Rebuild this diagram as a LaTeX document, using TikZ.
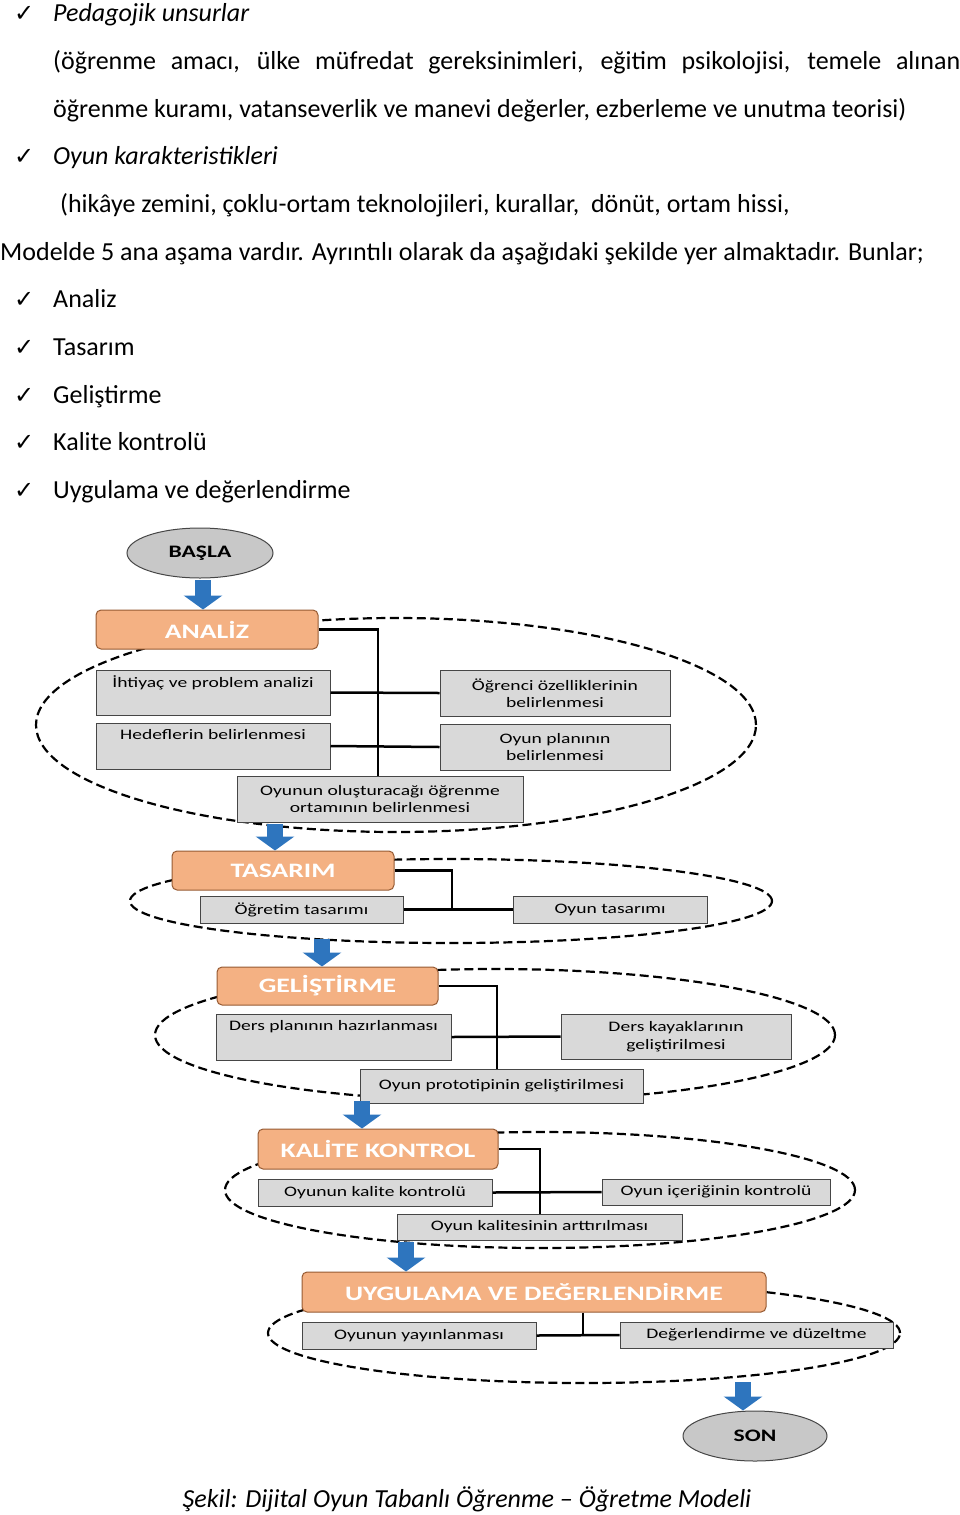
\documentclass[tikz,border=0pt]{standalone}
\usepackage{fontspec}
\setmainfont{Carlito}
\newfontfamily\dejavu{DejaVu Sans}
\newfontfamily\diag[FakeStretch=1.35]{Carlito}
\usetikzlibrary{arrows.meta,shapes.geometric}
\definecolor{orng}{RGB}{244,177,131}
\definecolor{orngb}{RGB}{150,90,50}
\definecolor{gfill}{RGB}{217,217,217}
\definecolor{gline}{RGB}{70,70,70}
\definecolor{ovfill}{RGB}{200,200,200}
\definecolor{barrow}{RGB}{46,117,190}
\tikzset{
  body/.style={anchor=base west, inner sep=0pt, font=\fontsize{26}{30}\selectfont},
  chk/.style={anchor=base west, inner sep=0pt, font=\dejavu\fontsize{24}{28}\selectfont},
  stage/.style={draw=orngb, line width=1pt, fill=orng, rounded corners=5pt, inner sep=0pt,
     text=white, font=\diag\bfseries\fontsize{20.5}{24}\selectfont},
  gbox/.style={draw=gline, line width=1pt, fill=gfill, inner sep=0pt, align=center,
     font=\diag\fontsize{14.5}{17.5}\selectfont},
  oval/.style={ellipse, draw=gline, line width=1pt, fill=ovfill, inner sep=0pt,
     font=\diag\bfseries\fontsize{17.5}{20}\selectfont},
  dell/.style={ellipse, draw=black, dash pattern=on 9pt off 4.5pt, line width=2.2pt, inner sep=0pt},
  conn/.style={draw=black, line width=2.5pt},
  bigarrow/.style={draw=barrow, line width=16pt, -{Triangle[width=38pt,length=14pt]}},
}
\begin{document}
\begin{tikzpicture}[x=1pt,y=-1pt]
\useasboundingbox (0,0) rectangle (960,1515);
% ---- text ----
\node[chk] (c1) at (14,21) {✓};
\node[body, font=\itshape\fontsize{26}{30}\selectfont] (t1) at (53,21) {Pedagojik unsurlar};
\node[body] (t2) at (53,69) {\makebox[907pt][s]{(öğrenme amacı, ülke müfredat gereksinimleri, eğitim psikolojisi, temele alınan}};
\node[body] (t3) at (53,117) {öğrenme kuramı, vatanseverlik ve manevi değerler, ezberleme ve unutma teorisi)};
\node[chk] (c2) at (14,164) {✓};
\node[body, font=\itshape\fontsize{26}{30}\selectfont] (t4) at (53,164) {Oyun karakteristikleri};
\node[body] (t5) at (60,212) {(hikâye zemini, çoklu-ortam teknolojileri, kurallar,\ \ dönüt, ortam hissi,};
\node[body] (t6) at (0,260) {Modelde 5 ana aşama vardır. Ayrıntılı olarak da aşağıdaki şekilde yer almaktadır. Bunlar;};
\node[chk] (c3) at (14,307) {✓};
\node[body] (l1) at (53,307) {Analiz};
\node[chk] (c4) at (14,355) {✓};
\node[body] (l2) at (53,355) {Tasarım};
\node[chk] (c5) at (14,403) {✓};
\node[body] (l3) at (53,403) {Geliştirme};
\node[chk] (c6) at (14,450) {✓};
\node[body] (l4) at (53,450) {Kalite kontrolü};
\node[chk] (c7) at (14,498) {✓};
\node[body] (l5) at (53,498) {Uygulama ve değerlendirme};
\node[body, anchor=base, font=\itshape\fontsize{26}{30}\selectfont] (cap) at (467,1507) {Şekil: Dijital Oyun Tabanlı Öğrenme – Öğretme Modeli};
% ---- dashed ellipses ----
\node[dell, minimum width=720pt, minimum height=214pt] (e1) at (396,725) {};
\node[dell, minimum width=642pt, minimum height=84pt] (e2) at (451,901) {};
\node[dell, minimum width=680pt, minimum height=132pt] (e3) at (495,1035) {};
\node[dell, minimum width=630pt, minimum height=116pt] (e4) at (540,1190) {};
\node[dell, minimum width=632pt, minimum height=100pt] (e5) at (584,1333) {};
% ---- start / end ----
\node[oval, minimum width=146pt, minimum height=50pt] (start) at (200,553) {BAŞLA};
\node[oval, minimum width=144pt, minimum height=50pt] (son) at (755,1436) {SON};
% ---- ANALIZ ----
\node[stage, minimum width=222pt, minimum height=39pt] (an) at (207,629.5) {ANALİZ};
\node[gbox, minimum width=234pt, minimum height=45pt] (a1) at (213,692.5) {İhtiyaç ve problem analizi\\ \strut};
\node[gbox, minimum width=234pt, minimum height=46pt] (a2) at (213,746) {Hedeflerin belirlenmesi\\ \strut};
\node[gbox, minimum width=230pt, minimum height=46pt] (a3) at (555,693) {Öğrenci özelliklerinin\\ belirlenmesi};
\node[gbox, minimum width=230pt, minimum height=46pt] (a4) at (555,747) {Oyun planının\\ belirlenmesi};
\node[gbox, minimum width=286pt, minimum height=46pt] (a5) at (380,799) {Oyunun oluşturacağı öğrenme\\ ortamının belirlenmesi};
\coordinate (aj) at (378,776);
\draw[conn] (an.east) -| (aj);
\draw[conn] (a1.east) -- (a3.west);
\draw[conn] (a2.east) -- (a4.west);
% ---- TASARIM ----
\node[stage, minimum width=222pt, minimum height=39pt] (ta) at (283,870.5) {TASARIM};
\node[gbox, minimum width=203pt, minimum height=27pt] (b1) at (301.5,909.5) {Öğretim tasarımı};
\node[gbox, minimum width=194pt, minimum height=27pt] (b2) at (610,909.5) {Oyun tasarımı};
\coordinate (bj) at (452,909.5);
\draw[conn] (ta.east) -| (bj);
\draw[conn] (b1.east) -- (b2.west);
% ---- GELISTIRME ----
\node[stage, minimum width=221pt, minimum height=38pt] (ge) at (327.5,986) {GELİŞTİRME};
\node[gbox, minimum width=235pt, minimum height=46pt] (g1) at (333.5,1037) {Ders planının hazırlanması\\ \strut};
\node[gbox, minimum width=230pt, minimum height=45pt] (g2) at (676,1036.5) {Ders kayaklarının\\ geliştirilmesi};
\node[gbox, minimum width=283pt, minimum height=34pt] (g3) at (501.5,1086) {Oyun prototipinin geliştirilmesi};
\coordinate (gj) at (497,1069);
\draw[conn] (ge.east) -| (gj);
\draw[conn] (g1.east) -- (g2.west);
% ---- KALITE KONTROL ----
\node[stage, minimum width=240pt, minimum height=40pt] (ka) at (378,1149) {KALİTE KONTROL};
\node[gbox, minimum width=234pt, minimum height=27pt] (k1) at (375,1192.5) {Oyunun kalite kontrolü};
\node[gbox, minimum width=228pt, minimum height=26pt] (k2) at (716,1192) {Oyun içeriğinin kontrolü};
\node[gbox, minimum width=285pt, minimum height=26pt] (k3) at (539.5,1227) {Oyun kalitesinin arttırılması};
\coordinate (kj) at (540,1214);
\draw[conn] (ka.east) -| (kj);
\draw[conn] (k1.east) -- (k2.west);
% ---- UYGULAMA ----
\node[stage, minimum width=464pt, minimum height=40pt] (uy) at (534,1292) {UYGULAMA VE DEĞERLENDİRME};
\node[gbox, minimum width=234pt, minimum height=27pt] (u1) at (419,1335.5) {Oyunun yayınlanması};
\node[gbox, minimum width=273pt, minimum height=26pt] (u2) at (756.5,1335) {Değerlendirme ve düzeltme};
\coordinate (uj) at (583,1335);
\draw[conn] (uj |- uy.south) -- (uj);
\draw[conn] (u1.east) -- (u2.west);
% ---- block arrows ----
\coordinate (s1) at (203,580);
\draw[bigarrow] (s1) -- (s1 |- an.north);
\coordinate (s2) at (275,824);
\draw[bigarrow] (s2) -- (s2 |- ta.north);
\coordinate (s3) at (322,939);
\draw[bigarrow] (s3) -- (s3 |- ge.north);
\coordinate (s4) at (362,1101);
\draw[bigarrow] (s4) -- (s4 |- ka.north);
\coordinate (s5) at (406,1242);
\draw[bigarrow] (s5) -- (s5 |- uy.north);
\coordinate (s6) at (743,1382);
\draw[bigarrow] (s6) -- (s6 |- son.north);
\end{tikzpicture}
\end{document}
